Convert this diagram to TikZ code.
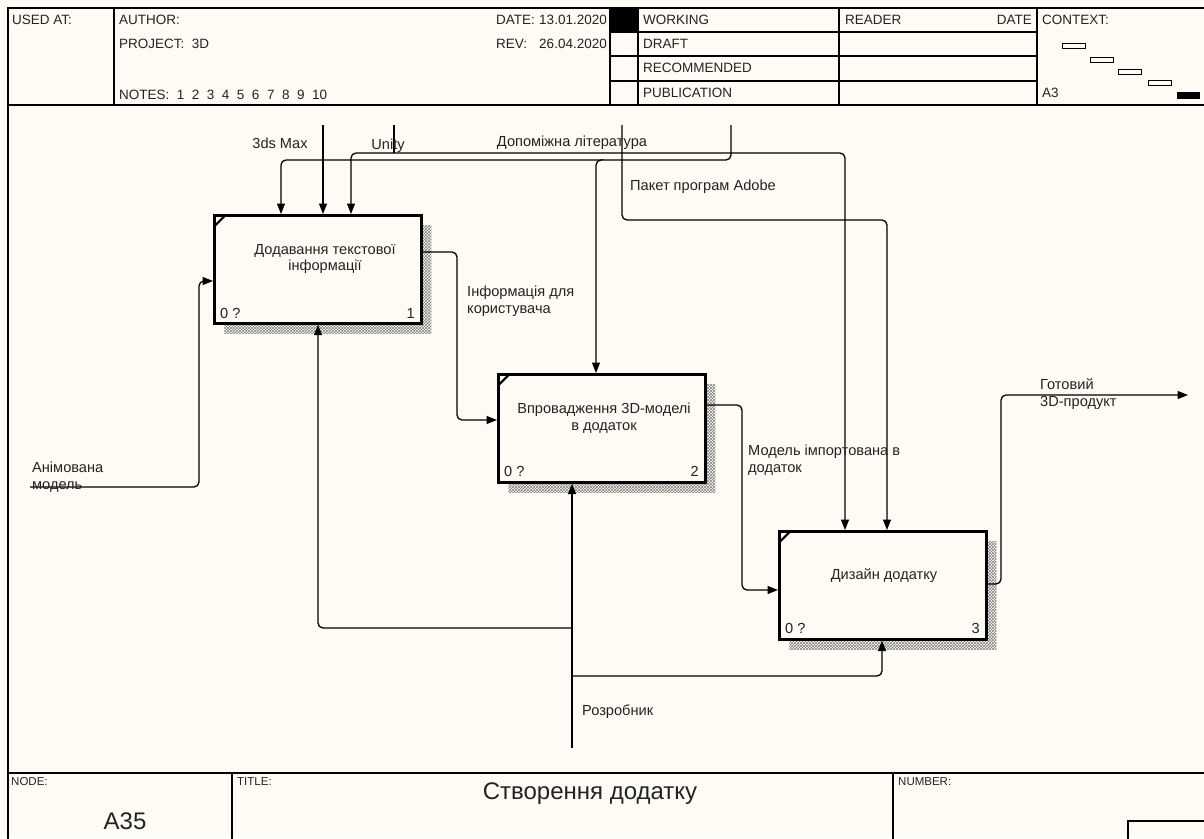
\documentclass[tikz,border=0pt]{standalone}
\usepackage{fontspec}
\setmainfont{Liberation Sans}
\usetikzlibrary{arrows.meta,patterns,shadows}
\definecolor{paper}{RGB}{253,251,243}
\definecolor{ink}{RGB}{35,35,35}
\begin{document}
\begin{tikzpicture}[x=1pt,y=-1pt,
  font=\fontsize{14.6}{16.5}\selectfont,
  rule/.style={line width=1.2pt, draw=black},
  wire/.style={line width=1.3pt, rounded corners=5pt},
  flow/.style={wire, -{Triangle[length=10.5pt,width=8pt]}},
  fn/.style={draw, line width=2.6pt, fill=paper, anchor=north west, inner sep=0pt,
    minimum width=207pt, minimum height=108pt,
    general shadow={shadow xshift=10pt, shadow yshift=-10pt,
      pattern=crosshatch, pattern color=black!50},
    path picture={\draw[line width=2.2pt]
      ([yshift=-11pt]path picture bounding box.north west) --
      ([xshift=11pt]path picture bounding box.north west);}},
  lbl/.style={text=ink, inner sep=0pt},
  hd/.style={lbl, anchor=west, font=\fontsize{13.5}{15.5}\selectfont},
  hdr/.style={lbl, anchor=east, font=\fontsize{13.5}{15.5}\selectfont},
  small/.style={lbl, anchor=west, font=\fontsize{11.5}{13}\selectfont},
  big/.style={lbl, font=\fontsize{24}{28}\selectfont},
  ctx/.style={draw, line width=1pt, fill=paper},
]
% page
\useasboundingbox (0,0) rectangle (1204,838);
\fill[paper] (0,0) rectangle (1204,838);

% outer frame, header and footer rules
\draw[rule] (8,845) -- (8,8) -- (1210,8);
\draw[rule] (8,105) -- (1210,105);
\draw[rule] (8,773) -- (1210,773);
\draw[rule] (114,8) -- (114,105);
\draw[rule] (610,8) -- (610,105);
\draw[rule] (638,8) -- (638,105);
\draw[rule] (839,8) -- (839,105);
\draw[rule] (1037,8) -- (1037,105);
\draw[rule] (610,32) -- (1037,32);
\draw[rule] (610,56) -- (1037,56);
\draw[rule] (610,81) -- (1037,81);
\fill[black] (610,8) rectangle (638,32);
\draw[rule] (232,773) -- (232,845);
\draw[rule] (893,773) -- (893,845);
\draw[rule] (1128,845) -- (1128,821) -- (1210,821);

% header texts
\node[hd] (usedat) at (12,20) {USED AT:};
\node[hd] (author) at (119,20) {AUTHOR:};
\node[hd] (project) at (119,44) {PROJECT:\ \ 3D};
\node[hd] (notes) at (119,95) {NOTES:\ \ 1\ \ 2\ \ 3\ \ 4\ \ 5\ \ 6\ \ 7\ \ 8\ \ 9\ \ 10};
\node[hd] (datel) at (496,20) {DATE:};
\node[hdr] (datev) at (607,20) {13.01.2020};
\node[hd] (revl) at (496,44) {REV:};
\node[hdr] (revv) at (607,44) {26.04.2020};
\node[hd] (working) at (643,20) {WORKING};
\node[hd] (draft) at (643,44) {DRAFT};
\node[hd] (recom) at (643,68) {RECOMMENDED};
\node[hd] (publ) at (643,93) {PUBLICATION};
\node[hd] (reader) at (845,20) {READER};
\node[hdr] (rdate) at (1032,20) {DATE};
\node[hd] (context) at (1042,20) {CONTEXT:};
\node[hd] (sheet) at (1042,93) {A3};

% context thumbnail
\draw[ctx] (1062,43) rectangle (1085,48);
\draw[ctx] (1090,57) rectangle (1113,62);
\draw[ctx] (1118,69) rectangle (1141,74);
\draw[ctx] (1148,80) rectangle (1171,85);
\fill[black] (1177,92) rectangle (1200,99);

% footer texts
\node[small] (nodel) at (11,782) {NODE:};
\node[small] (titlel) at (237,782) {TITLE:};
\node[small] (numberl) at (898,782) {NUMBER:};
\node[big] (nodeid) at (125,821) {A35};
\node[big] (title) at (590,794) {Створення додатку};

% function boxes
\node[fn] (b1) at (213,214) {};
\node[fn] (b2) at (497,373) {};
\node[fn] (b3) at (778,530) {};

\node[lbl, align=center] (t1) at (325,259) {Додавання текстової\\інформації};
\node[lbl, align=center] (t2) at (604,418) {Впровадження 3D-моделі\\в додаток};
\node[lbl, align=center] (t3) at (884,576) {Дизайн додатку};

\node[lbl, anchor=west] (n1a) at (220,313) {0 ?};
\node[lbl, anchor=east] (n1b) at (415,313) {1};
\node[lbl, anchor=west] (n2a) at (504,471) {0 ?};
\node[lbl, anchor=east] (n2b) at (699,471) {2};
\node[lbl, anchor=west] (n3a) at (785,628) {0 ?};
\node[lbl, anchor=east] (n3b) at (980,628) {3};

% boundary ends of the arrows
\coordinate (s3ds) at (323,125);
\coordinate (sunity) at (394,125);
\coordinate (sadobe) at (622,125);
\coordinate (slit) at (731,125);
\coordinate (sanim) at (30,487);
\coordinate (sdev) at (572,748);
\coordinate (sprod) at (1188,395);

% controls
\draw[flow] (s3ds) -- (323,0 |- b1.north);
\draw[wire] (sunity) -- (394,153);
\draw[flow] (394,153) -- (351,153) -- (351,0 |- b1.north);
\draw[flow] (394,153) -- (845,153) -- (845,0 |- b3.north);
\draw[flow] (slit) -- (731,160) -- (281,160) -- (281,0 |- b1.north);
\draw[flow] (600,160) -- (596,160) -- (596,0 |- b2.north);
\draw[flow] (sadobe) -- (622,220) -- (887,220) -- (887,0 |- b3.north);

% inputs and outputs
\draw[flow] (sanim) -- (199,487) -- (199,281) -- (b1.west |- 0,281);
\draw[flow] (b1.east |- 0,252) -- (457,252) -- (457,420) -- (b2.west |- 0,420);
\draw[flow] (b2.east |- 0,405) -- (742,405) -- (742,590) -- (b3.west |- 0,590);
\draw[flow] (b3.east |- 0,584) -- (1001,584) -- (1001,395) -- (sprod);

% mechanism
\draw[flow] (sdev) -- (572,0 |- b2.south);
\draw[flow] (572,676) -- (882,676) -- (882,0 |- b3.south);
\draw[flow] (572,628) -- (318,628) -- (318,0 |- b1.south);

% arrow labels
\node[lbl] (l3ds) at (280,143) {3ds Max};
\node[lbl] (lunity) at (388,146) {Unity};
\node[lbl] (llit) at (572,143) {Допоміжна література};
\node[lbl, anchor=west] (ladobe) at (630,187) {Пакет програм Adobe};
\node[lbl, anchor=west, align=left] (linfo) at (467,301) {Інформація для\\користувача};
\node[lbl, anchor=west, align=left] (limp) at (748,460) {Модель імпортована в\\додаток};
\node[lbl, anchor=west, align=left] (lprod) at (1040,394) {Готовий\\3D-продукт};
\node[lbl, anchor=west, align=left] (lanim) at (32,477) {Анімована\\модель};
\node[lbl, anchor=west] (ldev) at (582,712) {Розробник};
\end{tikzpicture}
\end{document}
